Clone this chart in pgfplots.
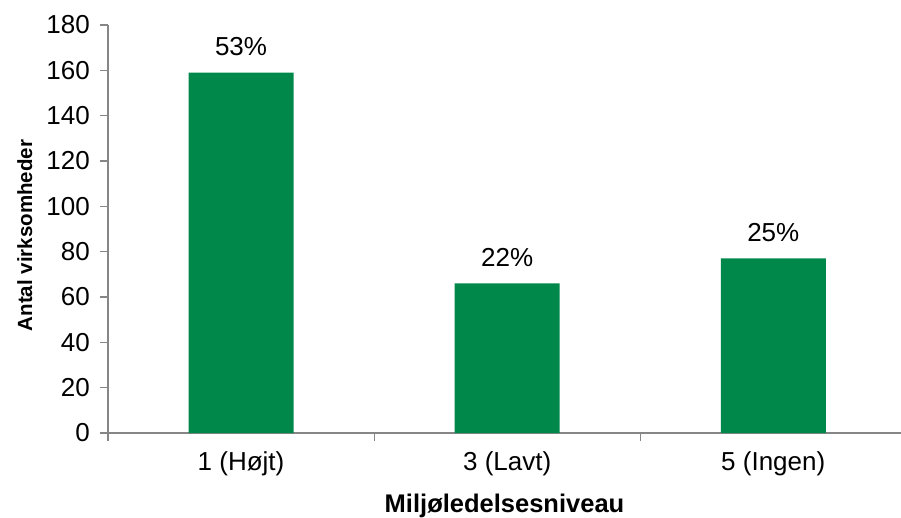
\documentclass[border=0pt]{standalone}
\usepackage{fontspec}
\setmainfont{Liberation Sans}
\usepackage{pgfplots}
\pgfplotsset{compat=1.18}
\definecolor{barGreen}{RGB}{0,136,74}
\definecolor{axisGray}{RGB}{134,134,134}

\begin{document}
\begin{tikzpicture}
  \begin{axis}[
      width=793pt, height=408pt,
      scale only axis,
      xmin=-0.5, xmax=2.48,
      ymin=0, ymax=180,
      ytick={0,20,...,180},
      xtick={0,1,2},
      xticklabels={1 (Højt),3 (Lavt),5 (Ingen)},
      minor xtick={-0.5,0.5,1.5},
      axis lines*=left,
      axis line style={axisGray, line width=1.2pt},
      tick align=outside,
      major tick length=8pt,
      minor tick length=8pt,
      major x tick style={draw=none},
      minor x tick style={axisGray, line width=1.2pt},
      major y tick style={axisGray, line width=1.2pt},
      /pgf/number format/assume math mode=true,
      tick label style={font=\fontsize{26}{30}\selectfont},
      yticklabel style={inner sep=0pt, anchor=east, xshift=-10pt},
      xticklabel style={inner sep=0pt, anchor=north, yshift=-10pt},
      xlabel={\textbf{Miljøledelsesniveau}},
      xlabel style={font=\fontsize{25.5}{30}\selectfont, at={(axis description cs:0.5,0)}, anchor=base, yshift=-79pt},
      ylabel={\textbf{Antal virksomheder}},
      ylabel style={font=\fontsize{20.5}{24}\selectfont, at={(axis description cs:-0.0958,0.484)}, anchor=base},
      ybar,
      bar width=105pt,
      nodes near coords,
      point meta=explicit symbolic,
      every node near coord/.append style={font=\fontsize{26}{30}\selectfont, black, anchor=base, inner sep=0pt, yshift=17pt},
      clip=false,
    ]
    \addplot[fill=barGreen, draw=none] table[meta=lbl] {
      x y lbl
      0 159 53\%
      1 66 22\%
      2 77 25\%
    };
    \coordinate (o) at (rel axis cs:0,0);
  \end{axis}
  \pgfresetboundingbox
  \path[use as bounding box] ([shift={(-108pt,-84pt)}]o) rectangle ++(901pt,517pt);
\end{tikzpicture}
\end{document}
